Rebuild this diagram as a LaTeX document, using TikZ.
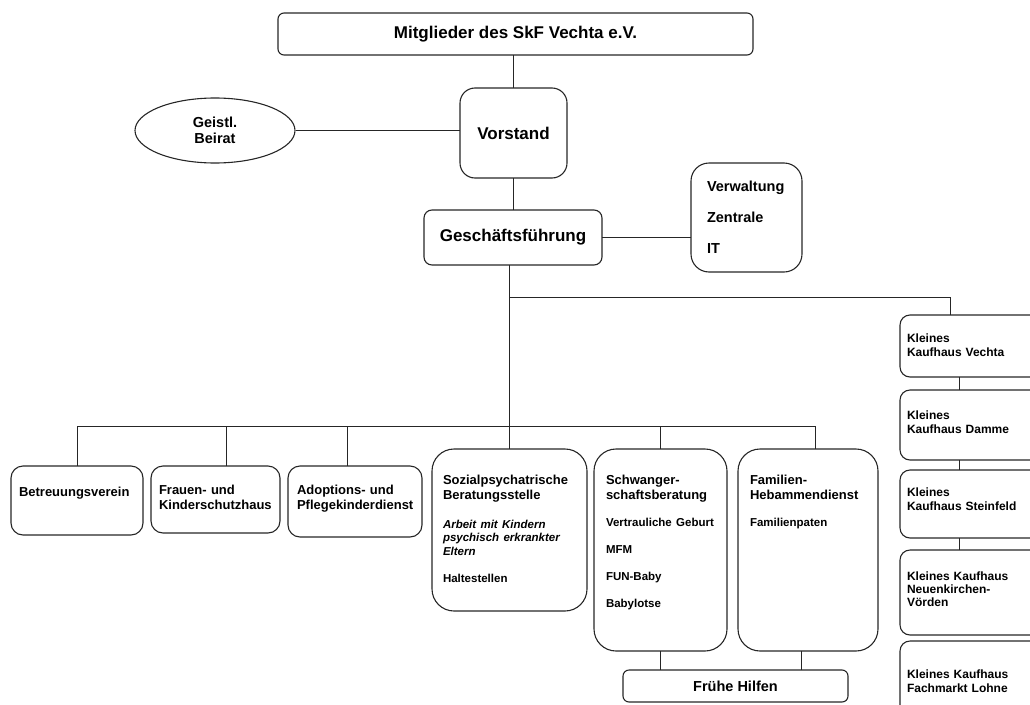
\documentclass[tikz,border=0pt]{standalone}
\usepackage{fontspec}
\setmainfont{Liberation Sans}
\usetikzlibrary{positioning,calc,shapes.geometric}

\begin{document}
\begin{tikzpicture}[x=1pt, y=-1pt,
        unit/.style={draw=black!85, line width=1.1pt, rounded corners=#1, inner sep=0pt, outer sep=0pt},
        unit/.default=12pt,
        title/.style={font=\bfseries\fontsize{17}{20}\selectfont},
        txt/.style={inner sep=0pt, outer sep=0pt, text width=#1, align=left, font=\bfseries\fontsize{13}{15}\selectfont},
        txt/.default=140pt,
        shoptxt/.style={txt=135pt, font=\bfseries\fontsize{12}{14}\selectfont},
        link/.style={draw=black!85, line width=0.9pt}
    ]
        \useasboundingbox (0,0) rectangle (1030,704);

        % Leitung
        \node[unit=6pt, minimum width=475pt, minimum height=42pt, title] (mitgl) at (515.5,34) {Mitglieder des SkF Vechta e.V.};
        \node[unit=15pt, minimum width=107pt, minimum height=90pt, title] (vorstand) at (513.5,133) {Vorstand};
        \node[ellipse, draw=black!85, line width=1.1pt, minimum width=160pt, minimum height=65pt, inner sep=0pt, align=center, font=\bfseries\fontsize{14.5}{16}\selectfont] (beirat) at (215,130.5) {Geistl.\\Beirat};
        \node[unit=8pt, minimum width=178pt, minimum height=55pt, title] (gf) at (513,237.5) {Geschäftsführung};
        \node[unit=18pt, minimum width=111pt, minimum height=109pt] (verw) at (746.5,217.5) {};
        \node[txt=90pt, font=\bfseries\fontsize{14.5}{31}\selectfont, below right=18pt and 16pt of verw.north west] (verw-t) {Verwaltung\\Zentrale\\IT};

        % Fachbereiche
        \node[unit, minimum width=132pt, minimum height=69pt] (betr) at (77,500.5) {};
        \node[txt, below right=21pt and 8pt of betr.north west] (betr-t) {Betreuungsverein};

        \node[unit, minimum width=129pt, minimum height=67pt] (frauen) at (215.5,499.5) {};
        \node[txt, below right=19pt and 8pt of frauen.north west] (frauen-t) {Frauen- und\\Kinderschutzhaus};

        \node[unit, minimum width=134pt, minimum height=71pt] (adopt) at (355,501.5) {};
        \node[txt, below right=19pt and 9pt of adopt.north west] (adopt-t) {Adoptions- und\\Pflegekinderdienst};

        \node[unit=22pt, minimum width=155pt, minimum height=162pt] (sozial) at (509.5,530) {};
        \node[txt, below right=26pt and 11pt of sozial.north west] (sozial-t) {Sozialpsychatrische\\Beratungsstelle\par
            \vspace{15.5pt}{\itshape\fontsize{11.5}{13.5}\selectfont Arbeit mit Kindern\\psychisch erkrankter\\Eltern\par}
            \vspace{13pt}{\fontsize{11.5}{14}\selectfont Haltestellen\par}};

        \node[unit=22pt, minimum width=133pt, minimum height=202pt] (schw) at (660.5,550) {};
        \node[txt, below right=26pt and 12pt of schw.north west] (schw-t) {Schwanger-\\schaftsberatung\par
            {\fontsize{11.5}{27}\selectfont Vertrauliche Geburt\\MFM\\FUN-Baby\\Babylotse\par}};

        \node[unit=22pt, minimum width=140pt, minimum height=202pt] (fam) at (808,550) {};
        \node[txt, below right=26pt and 12pt of fam.north west] (fam-t) {Familien-\\Hebammendienst\par
            {\fontsize{11.5}{27}\selectfont Familienpaten\par}};

        \node[unit=6pt, minimum width=225pt, minimum height=32pt, font=\bfseries\fontsize{14.5}{16}\selectfont] (fruehe) at (735.5,686) {Frühe Hilfen};

        % Kleine Kaufhäuser
        \node[unit=10pt, minimum width=145pt, minimum height=62pt] (kvechta) at (972.5,346) {};
        \node[shoptxt, below right=19pt and 7pt of kvechta.north west] (kvechta-t) {Kleines\\Kaufhaus Vechta};

        \node[unit=10pt, minimum width=145pt, minimum height=70pt] (kdamme) at (972.5,425) {};
        \node[shoptxt, below right=21pt and 7pt of kdamme.north west] (kdamme-t) {Kleines\\Kaufhaus Damme};

        \node[unit=10pt, minimum width=145pt, minimum height=68pt] (ksteinf) at (972.5,504) {};
        \node[shoptxt, below right=18pt and 7pt of ksteinf.north west] (ksteinf-t) {Kleines\\Kaufhaus Steinfeld};

        \node[unit=10pt, minimum width=145pt, minimum height=85pt] (kneuen) at (972.5,592.5) {};
        \node[shoptxt, font=\bfseries\fontsize{12}{13}\selectfont, below right=22pt and 7pt of kneuen.north west] (kneuen-t) {Kleines Kaufhaus\\Neuenkirchen-\\Vörden};

        \node[unit=10pt, minimum width=145pt, minimum height=75pt] (klohne) at (972.5,678.5) {};
        \node[shoptxt, below right=29pt and 7pt of klohne.north west] (klohne-t) {Kleines Kaufhaus\\Fachmarkt Lohne};

        % Verbindungen
        \coordinate (bar) at (0,426);
        \coordinate (shop) at (0,297);
        \draw[link] (vorstand.north |- mitgl.south) -- (vorstand.north);
        \draw[link] (beirat.east) -- (beirat.east -| vorstand.west);
        \draw[link] (vorstand.south) -- (vorstand.south |- gf.north);
        \draw[link] (gf.east) -- (gf.east -| verw.west);
        \draw[link] (sozial.north |- gf.south) -- (sozial.north);
        \draw[link] (sozial.north |- shop) -| ([xshift=50pt]kvechta.north west);
        \draw[link] (betr.north |- bar) -- ([xshift=7pt]fam.north |- bar);
        \draw[link] (betr.north |- bar) -- (betr.north);
        \draw[link] ([xshift=10.5pt]frauen.north |- bar) -- ([xshift=10.5pt]frauen.north);
        \draw[link] ([xshift=-8pt]adopt.north |- bar) -- ([xshift=-8pt]adopt.north);
        \draw[link] (schw.north |- bar) -- (schw.north);
        \draw[link] ([xshift=7pt]fam.north |- bar) -- ([xshift=7pt]fam.north);
        \draw[link] (schw.south) -- (schw.south |- fruehe.north);
        \draw[link] ([xshift=-7pt]fam.south) -- ([xshift=-7pt]fam.south |- fruehe.north);
        \foreach \a/\b in {kvechta/kdamme, kdamme/ksteinf, ksteinf/kneuen}
            \draw[link] ([xshift=59pt]\a.south west) -- ([xshift=59pt]\b.north west);
    \end{tikzpicture}
\end{document}
